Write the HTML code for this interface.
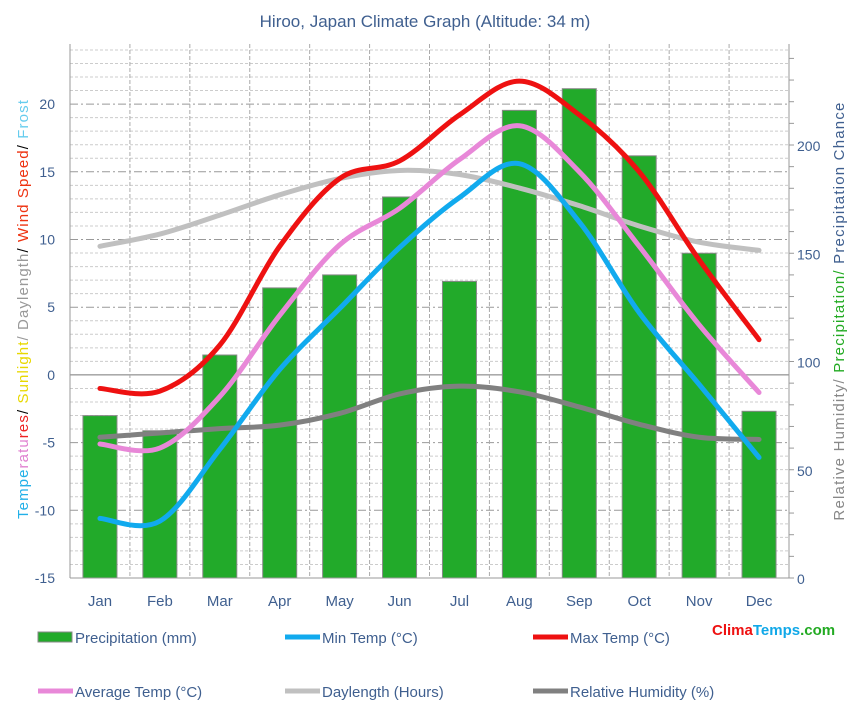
<!DOCTYPE html>
<html><head><meta charset="utf-8"><style>
body{margin:0;background:#fff;width:851px;height:719px;overflow:hidden}
svg{font-family:"Liberation Sans",sans-serif}
</style></head><body>
<svg id="c" width="851" height="719" xmlns="http://www.w3.org/2000/svg">
<text x="425" y="27" text-anchor="middle" font-size="17" fill="#3f5f8f">Hiroo, Japan Climate Graph (Altitude: 34 m)</text>
<g id="grid"></g><g id="bars"></g><g id="lines"></g><g id="axes"></g>
<text transform="translate(28,309) rotate(-90)" text-anchor="middle" font-size="15" letter-spacing="1.1"><tspan fill="#22b0e8">Tempe</tspan><tspan fill="#e080d0">ratu</tspan><tspan fill="#ee2222">res</tspan><tspan fill="#000">/ </tspan><tspan fill="#e8d800">Sunlight</tspan><tspan fill="#999">/ Daylength</tspan><tspan fill="#000">/ </tspan><tspan fill="#ee3311">Wind Speed</tspan><tspan fill="#000">/ </tspan><tspan fill="#66ccee">Frost</tspan></text>
<text transform="translate(844,311) rotate(-90)" text-anchor="middle" font-size="15" letter-spacing="1.2"><tspan fill="#888">Relative Humidity/ </tspan><tspan fill="#22aa22">Precipitation/ </tspan><tspan fill="#3f5f8f">Precipitation Chance</tspan></text>
<g id="legend" font-size="15" fill="#3f5f8f"></g>
<text x="712" y="635" font-size="15" font-weight="bold"><tspan fill="#ee1111">Clima</tspan><tspan fill="#11a8e8">Temps</tspan><tspan fill="#22aa22">.com</tspan></text>
</svg>
<script>
const months=["Jan","Feb","Mar","Apr","May","Jun","Jul","Aug","Sep","Oct","Nov","Dec"];
const precip=[75,68,103,134,140,176,137,216,226,195,150,77];
const maxT=[-1.0,-1.2,2.2,9.5,14.5,15.8,19.2,21.7,19.2,15.0,8.5,2.6];
const minT=[-10.6,-10.8,-5.5,0.4,4.9,9.4,13.1,15.6,11.3,4.6,-0.7,-6.1];
const avgT=[-5.1,-5.4,-1.6,4.4,9.6,12.3,15.9,18.4,15.0,9.5,3.7,-1.3];
const dayLen=[9.5,10.4,11.8,13.3,14.5,15.1,14.8,13.8,12.5,11.0,9.8,9.2];
const humid=[65,67,69,70.6,76,85,88.6,86,79,71,65,64];
const leftTicks=[-15,-10,-5,0,5,10,15,20];
const rightTicks=[0,50,100,150,200];
const NS="http://www.w3.org/2000/svg";
const X0=70,X1=789,Y0=578,YT=44;
const mw=(X1-X0)/12;
const xm=i=>X0+mw*(i+0.5);
const yL=v=>Y0-(v+15)*13.54;
const yR=v=>Y0-v*2.165;
function mk(tag,attrs,parent){const e=document.createElementNS(NS,tag);for(const k in attrs)e.setAttribute(k,attrs[k]);parent.appendChild(e);return e;}
const grid=document.getElementById('grid'),bars=document.getElementById('bars'),lines=document.getElementById('lines'),axes=document.getElementById('axes'),leg=document.getElementById('legend');
for(let v=-14;v<=24;v++){if(v%5===0)continue;const l=mk('line',{x1:X0,x2:X1,y1:yL(v),y2:yL(v),stroke:'#ccc','stroke-dasharray':'3,2'},grid);

}
for(let v=-10;v<=20;v+=5){const l=mk('line',{x1:X0,x2:X1,y1:yL(v),y2:yL(v),stroke:v===0?'#777':'#999','stroke-dasharray':v===0?'':'8,3,2,3'},grid);

}
for(let i=1;i<12;i++){const l=mk('line',{x1:X0+mw*i,x2:X0+mw*i,y1:YT,y2:Y0,stroke:'#aaa','stroke-dasharray':'4,2'},grid);

}
precip.forEach((p,i)=>{const r=mk('rect',{x:xm(i)-17,y:yR(p),width:34,height:Y0-yR(p),fill:'#22aa2a',stroke:'#888','stroke-width':1},bars);

});
function smooth(vals,yf){const p=vals.map((v,i)=>[xm(i),yf(v)]);let d='M'+p[0][0]+','+p[0][1];
for(let i=0;i<p.length-1;i++){const a=p[Math.max(0,i-1)],b=p[i],c=p[i+1],e=p[Math.min(p.length-1,i+2)];
d+=' C'+(b[0]+(c[0]-a[0])/6)+','+(b[1]+(c[1]-a[1])/6)+' '+(c[0]-(e[0]-b[0])/6)+','+(c[1]-(e[1]-b[1])/6)+' '+c[0]+','+c[1];}return d;}
const series=[[dayLen,yL,'#c0c0c0','daylength-line'],[humid,yR,'#808080','humidity-line'],[minT,yL,'#11aaee','min-temp-line'],[avgT,yL,'#e888d8','avg-temp-line'],[maxT,yL,'#ee1111','max-temp-line']];
series.forEach(s=>{const p=mk('path',{d:smooth(s[0],s[1]),fill:'none',stroke:s[2],'stroke-width':5,'stroke-linecap':'round'},lines);

});
mk('line',{x1:X0,x2:X0,y1:YT,y2:Y0,stroke:'#999'},axes);
mk('line',{x1:X1,x2:X1,y1:YT,y2:Y0,stroke:'#999'},axes);
mk('line',{x1:X0,x2:X1,y1:Y0,y2:Y0,stroke:'#999'},axes);
for(let v=0;v<=240;v+=10)mk('line',{x1:X1,x2:X1+5,y1:yR(v),y2:yR(v),stroke:'#999'},axes);
leftTicks.forEach(v=>{const t=mk('text',{x:55,y:yL(v)+5,'text-anchor':'end','font-size':14,fill:'#3f5f8f'},axes);t.textContent=v;

});
rightTicks.forEach(v=>{const t=mk('text',{x:797,y:yR(v)+6,'font-size':14,fill:'#3f5f8f'},axes);t.textContent=v;

});
months.forEach((m,i)=>{const t=mk('text',{x:xm(i),y:606,'text-anchor':'middle','font-size':15,fill:'#3f5f8f'},axes);t.textContent=m;

});
const legItems=[['Precipitation (mm)','#22aa2a',38,637,true],['Min Temp (°C)','#11aaee',285,637],['Max Temp (°C)','#ee1111',533,637],['Average Temp (°C)','#e888d8',38,691],['Daylength (Hours)','#c0c0c0',285,691],['Relative Humidity (%)','#808080',533,691]];
legItems.forEach(it=>{const g=mk('g',{},leg);


if(it[4])mk('rect',{x:it[2],y:it[3]-5,width:34,height:10,fill:it[1],stroke:'#888'},g);
else mk('line',{x1:it[2],x2:it[2]+35,y1:it[3],y2:it[3],stroke:it[1],'stroke-width':5},g);
const t=mk('text',{x:it[2]+37,y:it[3]+6},g);t.textContent=it[0];});
</script>
</body></html>
